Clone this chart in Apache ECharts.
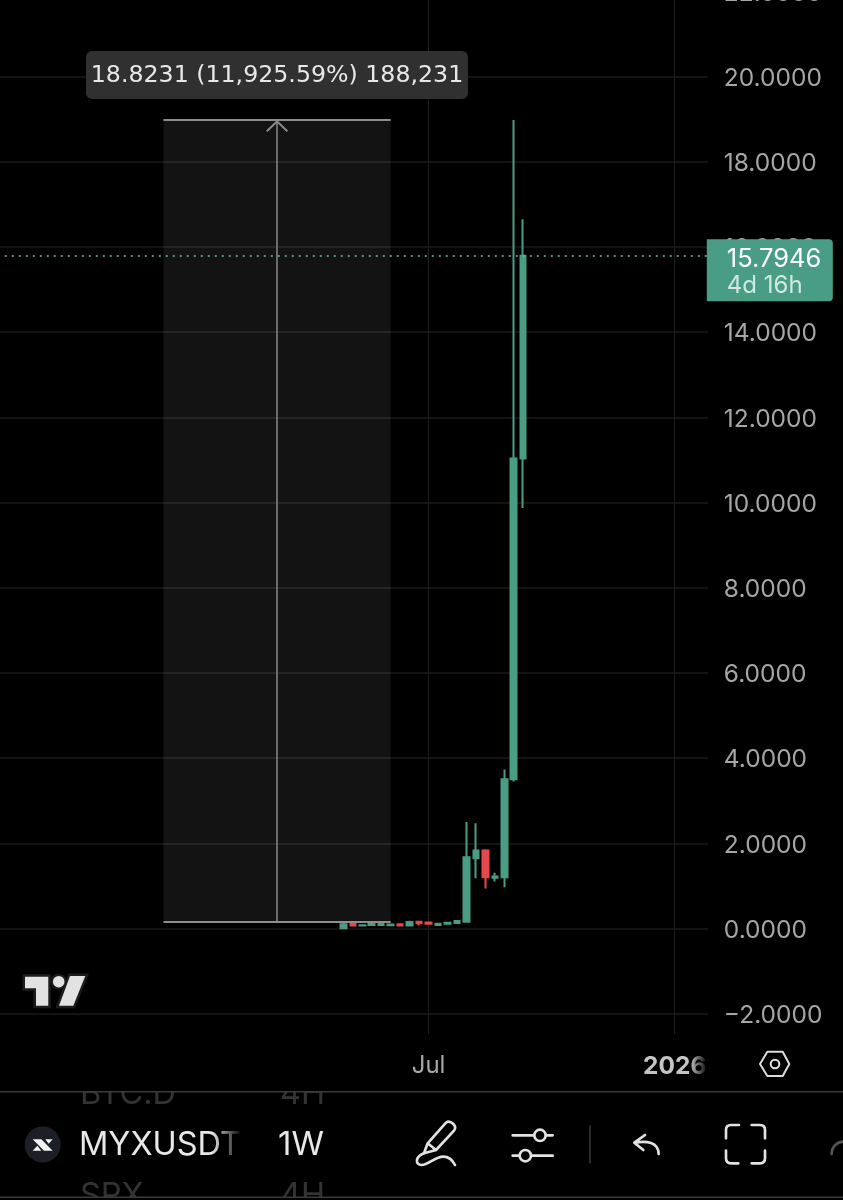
<!DOCTYPE html>
<html>
<head>
<meta charset="utf-8">
<title>MYXUSDT 1W</title>
<style>
  html, body { margin: 0; padding: 0; background: #000; }
  #chart { width: 843px; height: 1200px; }
</style>
<script src="https://cdn.jsdelivr.net/npm/echarts@6/dist/echarts.min.js"></script>
</head>
<body>
<div id="chart"></div>
<script>
// weekly candles, [open, close, low, high]
const candleDates = ['2025-04-28', '2025-05-05', '2025-05-12', '2025-05-19', '2025-05-26', '2025-06-02', '2025-06-09', '2025-06-16', '2025-06-23', '2025-06-30', '2025-07-07', '2025-07-14', '2025-07-21', '2025-07-28', '2025-08-04', '2025-08-11', '2025-08-18', '2025-08-25', '2025-09-01', '2025-09-08']
const opens  = [0.004, 0.114, 0.067, 0.08, 0.08, 0.075, 0.10, 0.07, 0.16, 0.14, 0.08, 0.11, 0.13, 0.16, 1.65, 1.83, 1.19, 1.20, 3.50, 11.03]
const closes = [0.098, 0.067, 0.075, 0.11, 0.11, 0.09, 0.07, 0.15, 0.12, 0.11, 0.11, 0.135, 0.175, 1.67, 1.83, 1.20, 1.22, 3.50, 11.03, 15.7946]
const lows   = [0.004, 0.06, 0.06, 0.08, 0.08, 0.07, 0.05, 0.07, 0.07, 0.09, 0.08, 0.11, 0.13, 0.16, 1.18, 0.94, 1.10, 0.97, 3.45, 9.87]
const highs  = [0.13, 0.137, 0.08, 0.115, 0.115, 0.10, 0.105, 0.18, 0.18, 0.16, 0.115, 0.145, 0.20, 2.50, 2.47, 1.86, 1.31, 3.73, 18.98, 16.65]

const priceTicks = [-2, 0, 2, 4, 6, 8, 10, 12, 14, 16, 18, 20, 22]
const timeLabels = { '2025-06-30': 'Jul', '2025-12-29': '2026' }

const lastPrice = 15.7946
const countdown = '4d 16h'
const measureLow = 0.158
const measureHigh = 18.98
const measureText = '18.8231 (11,925.59%) 188,231'

const green = '#4a9d85'
const red = '#e5484d'
const font = 'Inter'

// empty weeks to the left of the first candle and to the right of the last one
const leadWeeks = 36
const totalWeeks = 75
const firstWeek = Date.UTC(2025, 3, 28) - leadWeeks * 7 * 86400000
const weeks = []
for (let i = 0; i < totalWeeks; i++) {
  weeks.push(new Date(firstWeek + i * 7 * 86400000).toISOString().slice(0, 10))
}

const candles = new Array(leadWeeks).fill('-').concat(
  candleDates.map((d, i) => [opens[i], closes[i], lows[i], highs[i]])
)

const measureFrom = weeks[17]
const measureMid = weeks[29]
const measureTo = weeks[41]

const chart = echarts.init(document.getElementById('chart'))

// graphic has no plain path element, so each outline gets its own shape class
let pathCount = 0
function pathType(d) {
  const name = 'iconPath' + pathCount++
  echarts.graphic.registerShape(name, echarts.graphic.extendPath(d, {}))
  return name
}

// zoomed icon outlines are written at 3x, the group scales them back
function icon(x, y, children) {
  return { type: 'group', x: x, y: y, scaleX: 1 / 3, scaleY: 1 / 3, z: 120, children: children }
}
function stroke(d, color, width) {
  return {
    type: pathType(d), z: 120,
    style: { fill: 'none', stroke: color || '#e2e2e2', lineWidth: width || 8, lineCap: 'round', lineJoin: 'round' }
  }
}
function ring(cx, cy, r, width) {
  return {
    type: 'circle', z: 120,
    shape: { cx: cx, cy: cy, r: r },
    style: { fill: 'none', stroke: '#e2e2e2', lineWidth: width || 8 }
  }
}
function text(x, y, str, size, color, extra) {
  return {
    type: 'text', x: x, y: y, z: 100,
    style: Object.assign({ text: str, font: size + 'px ' + font, fill: color, textVerticalAlign: 'middle' }, extra)
  }
}
function fade(x, y, w, h) {
  return {
    type: 'rect', z: 110,
    shape: { x: x, y: y, width: w, height: h },
    style: {
      fill: new echarts.graphic.LinearGradient(0, 0, 1, 0, [
        { offset: 0, color: 'rgba(0,0,0,0)' },
        { offset: 1, color: 'rgba(0,0,0,1)' }
      ])
    }
  }
}
function cover(x, y, w, h) {
  return { type: 'rect', z: 105, shape: { x: x, y: y, width: w, height: h }, style: { fill: '#000' } }
}
function bar(y) {
  return { type: 'rect', z: 106, shape: { x: 0, y: y, width: 843, height: 1.5 }, style: { fill: '#3a3a3a' } }
}

const logoBars = 'M25 976.7 L48.3 976.7 L48.3 1005.7 L36 1005.7 L36 988.3 L25 988.3 Z M70 976 L85.3 976 L73.3 1005.7 L59 1005.7 Z'

const option = {
  backgroundColor: '#000',
  animation: false,
  grid: { left: -2.2, top: -8.7, width: 710, height: 1042.8, outerBoundsMode: 'none' },
  xAxis: {
    type: 'category',
    data: weeks,
    boundaryGap: true,
    axisLine: { show: false },
    axisTick: { show: false },
    axisLabel: {
      interval: (i, v) => v in timeLabels,
      margin: 20,
      formatter: v => v === '2025-12-29' ? '{y|' + timeLabels[v] + '}' : timeLabels[v],
      color: '#a8a8a8',
      fontFamily: font,
      fontSize: 24,
      rich: { y: { fontFamily: font, fontSize: 24.5, fontWeight: 700, color: '#c4c4c4' } }
    },
    splitLine: {
      show: true,
      alignWithLabel: true,
      interval: (i, v) => v in timeLabels,
      lineStyle: { color: '#1f1f1f', width: 1 }
    }
  },
  yAxis: {
    type: 'value',
    position: 'right',
    min: -2.48,
    max: 22,
    axisLine: { show: false },
    axisTick: { show: false, customValues: priceTicks },
    axisLabel: {
      customValues: priceTicks,
      margin: 16,
      formatter: v => '{n|' + (v < 0 ? '\u2212' + Math.abs(v).toFixed(4) : v.toFixed(4)) + '}',
      rich: { n: { color: '#a6a6a6', fontFamily: font, fontSize: 24.5, padding: [4, 0, 0, 0] } }
    },
    splitLine: { show: true, lineStyle: { color: '#1a1a1a', width: 1.5 } }
  },
  series: [{
    type: 'candlestick',
    data: candles,
    barWidth: 6,
    clip: false,
    itemStyle: { color: green, color0: red, borderColor: green, borderColor0: red, borderWidth: 2 },
    markArea: {
      silent: true,
      itemStyle: { color: 'rgba(255,255,255,0.075)' },
      data: [[{ coord: [measureFrom, measureLow] }, { coord: [measureTo, measureHigh] }]]
    },
    markLine: {
      silent: true,
      symbol: 'none',
      animation: false,
      data: [
        [
          { coord: [measureFrom, measureHigh], lineStyle: { color: '#8e8e8e', width: 2, type: 'solid' } },
          { coord: [measureTo, measureHigh] }
        ],
        [
          { coord: [measureFrom, measureLow], lineStyle: { color: '#8e8e8e', width: 2, type: 'solid' } },
          { coord: [measureTo, measureLow] }
        ],
        [
          { coord: [measureMid, measureLow], lineStyle: { color: '#8a8a8a', width: 1.5, type: 'solid' } },
          {
            coord: [measureMid, measureHigh],
            symbol: 'path://M0 11 L11 0 L22 11 L20.5 12.4 L11 3 L1.5 12.4 Z',
            symbolSize: [22, 12],
            symbolOffset: [0, 6]
          }
        ],
        {
          yAxis: lastPrice,
          lineStyle: { color: '#74b9a2', width: 1.5, type: [2, 5] },
          label: {
            show: true,
            position: 'end',
            distance: 0,
            offset: [-1, 14.5],
            formatter: '{p|' + lastPrice.toFixed(4) + '}\n{t|' + countdown + '}',
            backgroundColor: green,
            borderRadius: [0, 4, 4, 0],
            padding: [0, 10, 10, 20],
            align: 'left',
            verticalAlign: 'middle',
            rich: {
              p: { color: '#ffffff', fontFamily: font, fontSize: 25.5, lineHeight: 40, width: 96 },
              t: { color: '#cfe9df', fontFamily: font, fontSize: 24, lineHeight: 12, width: 96 }
            }
          }
        }
      ]
    }
  }],
  graphic: [
    // measure tool readout
    {
      type: 'rect', z: 100,
      shape: { x: 86, y: 51, width: 382, height: 48, r: 6 },
      style: { fill: '#303030' }
    },
    text(277, 76, measureText, 24, '#e8e8e8', { textAlign: 'center', font: '23.7px "DejaVu Sans"' }),

    // TradingView logo, the dark outline sits under the fill
    { type: pathType(logoBars), z: 100, style: { fill: 'none', stroke: '#1c1c1c', lineWidth: 5 } },
    { type: 'circle', z: 100, shape: { cx: 58.7, cy: 981.7, r: 8 }, style: { fill: '#1c1c1c' } },
    { type: pathType(logoBars), z: 101, style: { fill: '#e2e2e2' } },
    { type: 'circle', z: 101, shape: { cx: 58.7, cy: 981.7, r: 5.8 }, style: { fill: '#e2e2e2' } },

    // settings hexagon next to the time axis
    icon(630, 1030, [
      stroke('M390 102 L412 65 L458 65 L478 102 L458 138 L412 138 Z', '#dcdcdc', 6),
      ring(435, 102, 13, 6)
    ]),
    fade(690, 1045, 18, 40),

    // bottom toolbar, with the neighbouring rows scrolling behind it
    text(80, 1094, 'BTC.D', 32.5, '#333333'),
    text(280, 1094, '4H', 32.5, '#333333'),
    text(80, 1196.5, 'SPX', 32.5, '#333333'),
    text(280, 1196.5, '4H', 32.5, '#333333'),
    cover(0, 1078, 843, 13),
    cover(0, 1197, 843, 3),
    bar(1091),
    bar(1196.5),

    { type: 'circle', z: 120, shape: { cx: 42.7, cy: 1144.5, r: 18 }, style: { fill: '#1c2026' } },
    icon(0, 1085, [
      {
        type: pathType('M98 163 L124 163 L158 197 L132 197 Z M136 163 L158 163 L146 176 Z M98 197 L112 182 L124 197 Z'), z: 121,
        style: { fill: '#f2f2f2' }
      }
    ]),
    text(79, 1145, 'MYXUSDT', 32.5, '#e8e8e8'),
    fade(212, 1120, 30, 50),
    text(278, 1145, '1W', 33, '#e8e8e8'),

    // pen, sliders
    icon(400, 1110, [
      stroke('M72 130 L83 100 L138 38 Q148 30 160 42 Q170 52 162 62 L108 120 Z M83 100 L108 120'),
      stroke('M72 130 C45 140 45 165 65 165 C85 165 105 140 130 140 C150 140 160 155 165 165'),
      stroke('M338 76 L400 76 M438 76 L458 76 M338 137 L358 137 M395 137 L458 137'),
      ring(420, 76, 17),
      ring(376, 137, 17)
    ]),
    // divider, undo, fullscreen, clipped next icon
    icon(580, 1110, [
      stroke('M30 48 L30 158', '#333333', 5),
      stroke('M195 75 L163 98 L190 120 M163 98 C200 92 235 95 236 132'),
      stroke('M438 85 L438 60 Q438 45 453 45 L477 45 M515 45 L540 45 Q555 45 555 60 L555 85 M438 122 L438 145 Q438 160 453 160 L475 160 M515 160 L540 160 Q555 160 555 145 L555 122'),
      stroke('M755 132 C755 110 770 97 789 95', '#555555')
    ])
  ]
}

chart.setOption(option)
</script>
</body>
</html>
